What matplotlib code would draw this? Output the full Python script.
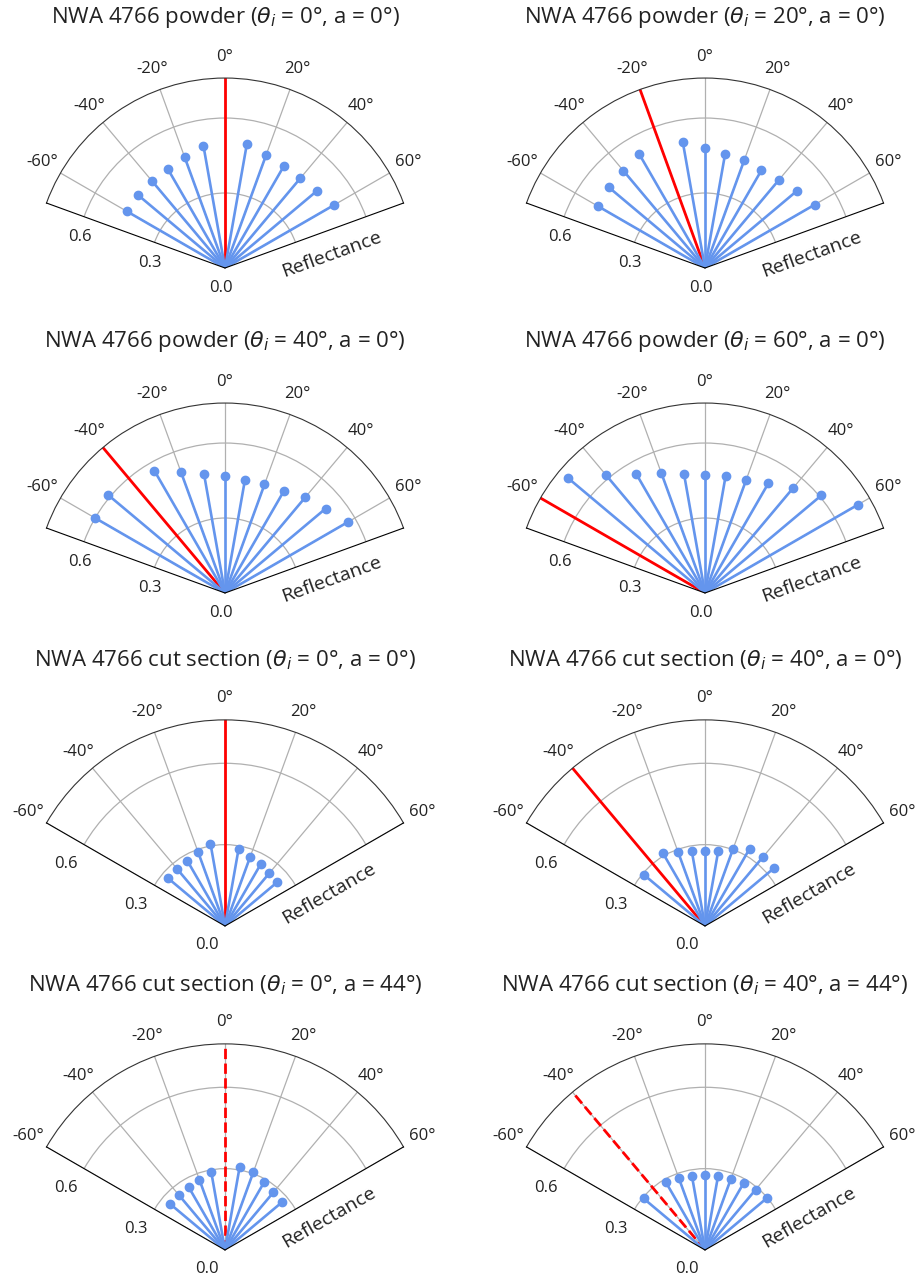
import numpy as np
import matplotlib
matplotlib.use("Agg")
import matplotlib.pyplot as plt

plt.rcParams["font.family"] = ["Open Sans", "DejaVu Sans"]

# viewing angles (deg) and reflectance
ang_pw0 = [-60, -50, -40, -30, -20, -10, 10, 20, 30, 40, 50, 60]
refl_pw0 = [0.454, 0.454, 0.453, 0.458, 0.472, 0.496, 0.503, 0.481, 0.471, 0.468, 0.482, 0.503]

ang_pw20 = [-60, -50, -40, -30, -10, 0, 10, 20, 30, 40, 50, 60]
refl_pw20 = [0.496, 0.503, 0.509, 0.526, 0.512, 0.481, 0.462, 0.459, 0.452, 0.462, 0.480, 0.507]

ang_pw40 = [-60, -50, -30, -20, -10, 0, 10, 20, 30, 40, 50, 60]
refl_pw40 = [0.600, 0.613, 0.565, 0.515, 0.484, 0.467, 0.459, 0.462, 0.470, 0.500, 0.525, 0.569]

ang_pw60 = [-50, -40, -30, -20, -10, 0, 10, 20, 30, 40, 50, 60]
refl_pw60 = [0.718, 0.616, 0.551, 0.509, 0.485, 0.474, 0.474, 0.481, 0.508, 0.546, 0.608, 0.705]

ang_cs0 = [-50, -40, -30, -20, -10, 10, 20, 30, 40, 50]
refl_cs0 = [0.273, 0.273, 0.277, 0.292, 0.308, 0.290, 0.270, 0.263, 0.255, 0.252]

ang_cs40 = [-50, -30, -20, -10, 0, 10, 20, 30, 40, 50]
refl_cs40 = [0.295, 0.309, 0.290, 0.279, 0.275, 0.281, 0.302, 0.329, 0.332, 0.334]

ang_cs0_a44 = [-50, -40, -30, -20, -10, 10, 20, 30, 40, 50]
refl_cs0_a44 = [0.266, 0.263, 0.268, 0.276, 0.293, 0.310, 0.305, 0.289, 0.277, 0.274]

ang_cs40_a44 = [-50, -30, -20, -10, 0, 10, 20, 30, 40, 50]
refl_cs40_a44 = [0.296, 0.288, 0.283, 0.278, 0.275, 0.276, 0.278, 0.285, 0.291, 0.300]

titles = [
    "NWA 4766 powder ($\\theta_i$ = 0°, a = 0°)",
    "NWA 4766 powder ($\\theta_i$ = 20°, a = 0°)",
    "NWA 4766 powder ($\\theta_i$ = 40°, a = 0°)",
    "NWA 4766 powder ($\\theta_i$ = 60°, a = 0°)",
    "NWA 4766 cut section ($\\theta_i$ = 0°, a = 0°)",
    "NWA 4766 cut section ($\\theta_i$ = 40°, a = 0°)",
    "NWA 4766 cut section ($\\theta_i$ = 0°, a = 44°)",
    "NWA 4766 cut section ($\\theta_i$ = 40°, a = 44°)",
]
incidence = [0, 20, 40, 60, 0, 40, 0, 40]
azimuth = [0, 0, 0, 0, 0, 0, 44, 44]
angles = [ang_pw0, ang_pw20, ang_pw40, ang_pw60, ang_cs0, ang_cs40, ang_cs0_a44, ang_cs40_a44]
refls = [refl_pw0, refl_pw20, refl_pw40, refl_pw60, refl_cs0, refl_cs40, refl_cs0_a44, refl_cs40_a44]

theta_ticks = [-60, -40, -20, 0, 20, 40, 60]
r_ticks = [0.0, 0.3, 0.6]
RMAX = 0.76

# -------- layout (pixels) --------
W, H = 919, 1278
SIDE = 357
col_x = [225, 705]
row_y = [268, 593, 926, 1250]      # wedge origin
row_span = [70, 70, 60, 60]
title_y = [17, 342, 660, 985]

fig = plt.figure(figsize=(W / 100, H / 100), dpi=100)


def add_wedge(cx, cy, span):
    R = SIDE / (2 * np.sin(np.radians(span)))
    mid = cy - R / 2
    ax = fig.add_axes([(cx - SIDE / 2) / W, (H - mid - SIDE / 2) / H, SIDE / W, SIDE / H],
                      projection="polar")
    return ax


for i in range(8):
    row, col = divmod(i, 2)
    span = row_span[row]
    ax = add_wedge(col_x[col], row_y[row], span)
    ax.set_theta_zero_location("N")
    ax.set_theta_direction(-1)
    ax.set_thetamin(-span)
    ax.set_thetamax(span)

    ls = "--" if azimuth[i] else "-"
    ax.plot(np.radians([-incidence[i]] * 2), [0, RMAX], color="red", lw=2, ls=ls, zorder=2)

    th = np.radians(angles[i])
    markers, stems, base = ax.stem(th, refls[i], basefmt=" ")
    stems.set_color("cornflowerblue")
    stems.set_linewidth(1.9)
    markers.set_color("cornflowerblue")
    markers.set_markersize(6)

    ax.set_rlim(0, RMAX)
    ax.set_rticks(r_ticks)
    ax.set_yticklabels([f"{v:.1f}" for v in r_ticks])
    ax.set_thetagrids(theta_ticks, labels=[f"{t}°" for t in theta_ticks])
    ax.tick_params(axis="y", labelsize=12, pad=6, labelcolor="#222222")
    ax.tick_params(axis="x", labelsize=12, pad=5, labelcolor="#222222")
    ax.grid(True, color="#b0b0b0", lw=0.9)
    ax.spines["polar"].set_color("#333333")

    # axis name along the right edge
    off = 24 * 0.72
    ax.annotate("Reflectance", xy=(np.radians(span), 0.42 if span == 70 else 0.39),
                xytext=(off * np.cos(np.radians(span)), -off * np.sin(np.radians(span))),
                textcoords="offset points", rotation=90 - span, ha="center", va="center",
                fontsize=14, color="#222222", annotation_clip=False)

    fig.text(col_x[col] / W, 1 - title_y[row] / H, titles[i], ha="center", va="center",
             fontsize=16, color="#222222")

fig.savefig("out.png", dpi=100)
